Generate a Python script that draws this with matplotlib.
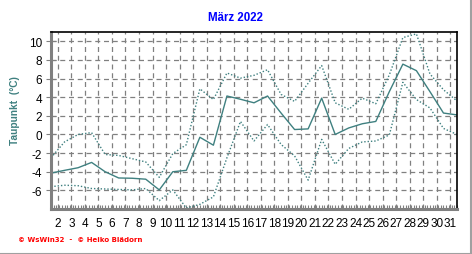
import matplotlib
matplotlib.use("Agg")
import matplotlib.pyplot as plt
from matplotlib.lines import Line2D
import numpy as np

days = list(range(1, 32))
tmax = [-2.5, -0.8, 0.0, 0.2, -2.15, -2.25, -2.6, -2.95, -4.6, -2.05, -1.1,
        4.9, 3.75, 6.6, 6.05, 6.35, 6.95, 4.3, 3.55, 5.5, 7.4, 3.4, 2.7, 3.9,
        3.3, 6.4, 10.4, 10.8, 6.5, 4.8, 3.6]
tmean = [-4.15, -3.85, -3.57, -3.0, -4.0, -4.67, -4.7, -4.8, -5.95, -4.0, -3.85,
         -0.3, -1.15, 4.13, 3.78, 3.4, 4.13, 2.3, 0.53, 0.6, 3.9, 0.0, 0.7, 1.15,
         1.4, 4.6, 7.55, 6.85, 4.6, 2.3, 2.1]
tmin = [-5.6, -5.45, -5.5, -5.8, -5.85, -5.9, -5.95, -5.8, -7.1, -5.95, -7.9,
        -7.5, -6.7, -2.5, 1.4, -0.7, 1.07, -1.07, -2.3, -4.9, -0.53, -3.2, -1.5,
        -0.8, -0.7, -0.05, 5.6, 3.75, 2.85, 0.65, 0.0]
xlabels = [str(d) for d in range(2, 32)]
yticks = [-6, -4, -2, 0, 2, 4, 6, 8, 10]

teal = "#3f8080"
W, H = 472, 255
fig = plt.figure(figsize=(W / 100, H / 100), dpi=100)
ax = fig.add_axes([51 / W, 1 - 210 / H, (457 - 51) / W, (210 - 33) / H])

ax.plot(days, tmax, color=teal, lw=1.0, ls=(0, (1, 1.4)))
ax.plot(days, tmean, color=teal, lw=1.0)
ax.plot(days, tmin, color=teal, lw=1.0, ls=(0, (1, 1.4)))

ax.set_xlim(1, 31)
ax.set_ylim(-8, 11)

xpos = [d - 0.5 for d in range(2, 32)]
ax.set_xticks(xpos)
ax.set_xticklabels(xlabels, fontsize=8.5, family="Liberation Sans")
ax.set_xticks(np.arange(1, 31.01, 0.2), minor=True)
ax.tick_params(axis="x", which="major", length=0, pad=6)
ax.tick_params(axis="x", which="minor", direction="in", length=3, color="#808080", width=0.8)

ax.set_yticks(yticks)
ax.set_yticklabels([str(v) for v in yticks], fontsize=8.5, family="Liberation Sans")
ax.tick_params(axis="y", which="major", direction="inout", length=7, color="#808080", width=0.8, pad=3)

ax.grid(True, which="major", color="#808080", ls=(0, (4, 3)), lw=0.9)
ax.set_axisbelow(True)

for s in ["left", "bottom"]:
    ax.spines[s].set_color("#808080")
    ax.spines[s].set_linewidth(2.2)
for s in ["top", "right"]:
    ax.spines[s].set_color("black")
    ax.spines[s].set_linewidth(1.2)

fig.text(236 / W, 1 - 18 / H, "März 2022", color="#0000ff", fontsize=8.3,
         fontweight="bold", ha="center", va="center", family="Liberation Sans")
fig.text(15 / W, 1 - 111 / H, "Taupunkt  (°C)", color=teal, fontsize=7.3,
         fontweight="bold", rotation=90, ha="center", va="center", family="Liberation Sans")
fig.text(18 / W, 1 - 240 / H, "© WsWin32  -  © Heiko Blädorn", color="#ff0000", fontsize=5,
         fontweight="bold", ha="left", va="center", family="DejaVu Sans")

fig.add_artist(Line2D([0, 1], [0.5 / H, 0.5 / H], color="#a0a0a0", lw=1.5, transform=fig.transFigure))
fig.add_artist(Line2D([1 - 1.5 / W, 1 - 1.5 / W], [0, 1], color="#a0a0a0", lw=1.5, transform=fig.transFigure))

fig.savefig("out.png", dpi=100, facecolor="white")
